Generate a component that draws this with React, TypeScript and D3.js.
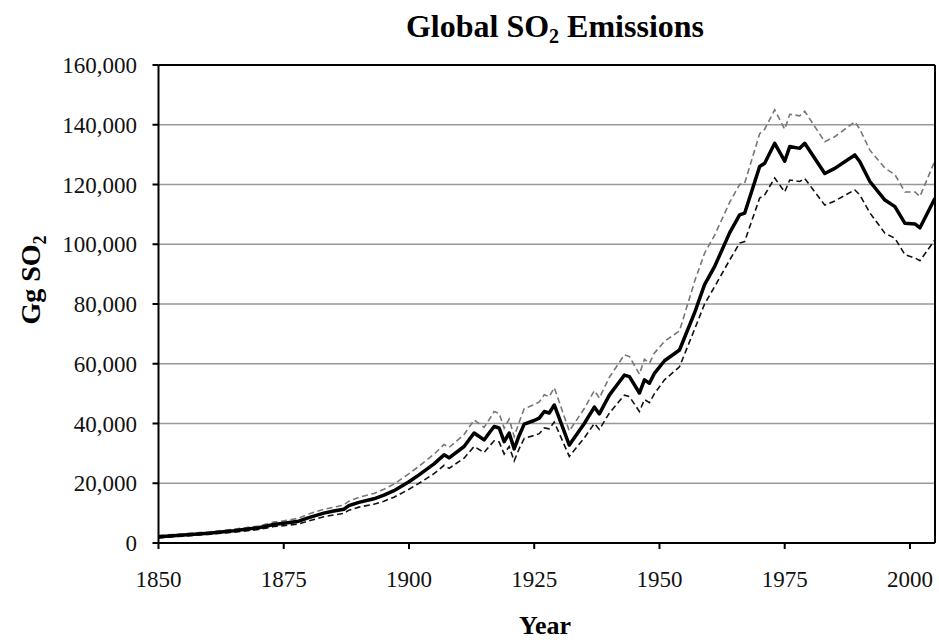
import React from "react";
import * as d3 from "d3";

const years = [1850, 1855, 1860, 1865, 1870, 1873, 1875, 1878, 1880, 1883, 1885, 1887, 1888, 1890, 1893, 1895, 1897, 1900, 1902, 1905, 1907, 1908, 1911, 1913, 1915, 1916, 1917, 1918, 1919, 1920, 1921, 1922, 1923, 1925, 1926, 1927, 1928, 1929, 1932, 1935, 1937, 1938, 1940, 1942, 1943, 1944, 1946, 1947, 1948, 1949, 1951, 1954, 1957, 1959, 1961, 1964, 1966, 1967, 1970, 1971, 1973, 1975, 1976, 1978, 1979, 1983, 1985, 1989, 1990, 1992, 1995, 1997, 1999, 2001, 2002, 2005];

const central = [2100, 2700, 3300, 4100, 5100, 6200, 6600, 7300, 8500, 10000, 10700, 11300, 12500, 13600, 14800, 16000, 17500, 20500, 22800, 26500, 29500, 28500, 32300, 36800, 34500, 36800, 39000, 38500, 33900, 36800, 31500, 36000, 39800, 41000, 41800, 44000, 43500, 46200, 32800, 40000, 45500, 43200, 49500, 54000, 56200, 55700, 50200, 54600, 53500, 56800, 61000, 64600, 77000, 86500, 92500, 103800, 109800, 110400, 126000, 127100, 133800, 127800, 132700, 132100, 133800, 123700, 125400, 129900, 127600, 121000, 114800, 112600, 107000, 106800, 105500, 115400];

const upper = [2500, 3100, 3700, 4600, 5700, 7000, 7400, 8300, 9700, 11300, 12000, 12700, 14000, 15300, 16600, 18000, 19700, 23200, 25700, 29700, 33000, 32000, 36300, 41200, 38700, 41300, 44000, 43400, 38400, 41500, 35600, 40500, 45000, 46300, 47200, 49600, 49000, 52000, 37500, 45000, 51000, 48500, 55500, 60500, 63000, 62400, 56500, 61500, 60200, 63600, 67500, 71000, 87500, 97000, 103000, 114000, 120000, 120400, 137000, 138500, 145000, 138500, 143500, 143000, 144500, 134300, 136000, 141000, 138500, 131500, 125500, 123300, 117500, 117500, 116000, 128000];

const lower = [1700, 2300, 2900, 3600, 4500, 5500, 5800, 6400, 7400, 8800, 9400, 9900, 11000, 12000, 13000, 14000, 15300, 18000, 20000, 23200, 26000, 25000, 28400, 32300, 30300, 32300, 34200, 33800, 29800, 32300, 27500, 31600, 35000, 36000, 36600, 38500, 38200, 40500, 29000, 35200, 40000, 38000, 43500, 47500, 49500, 49000, 44000, 48000, 47000, 50000, 54600, 59000, 71500, 80000, 85800, 94700, 100400, 100900, 115500, 116500, 122200, 117500, 121500, 121000, 122000, 113100, 114500, 118200, 116500, 110500, 103700, 102000, 96500, 95400, 94500, 101500];

const xTicks = [1850, 1875, 1900, 1925, 1950, 1975, 2000];
const yTicks = [0, 20000, 40000, 60000, 80000, 100000, 120000, 140000, 160000];

const W = 939;
const H = 644;
const left = 158.5;
const right = 935;
const top = 65;
const bottom = 543;

export default function App() {
  const x = d3.scaleLinear().domain([1850, 2005]).range([left, right]);
  const y = d3.scaleLinear().domain([0, 160000]).range([bottom, top]);
  const line = (vals: number[]) =>
    d3
      .line<number>()
      .x((_, i) => x(years[i]))
      .y((v) => y(v))(vals) || "";
  const fmt = d3.format(",");
  const font = "'Liberation Serif', 'Times New Roman', serif";

  return (
    <svg
      width={W}
      height={H}
      style={{ position: "absolute", left: 0, top: 0, background: "#fff" }}
      fontFamily={font}
    >
      <defs>
        <clipPath id="plot">
          <rect x={left} y={top - 5} width={right - left} height={bottom - top + 5} />
        </clipPath>
      </defs>
      {yTicks.slice(1, -1).map((t) => (
        <line key={t} x1={left} x2={right} y1={y(t)} y2={y(t)} stroke="#999" strokeWidth={1.6} />
      ))}
      <g clipPath="url(#plot)">
        <path d={line(upper)} fill="none" stroke="#777" strokeWidth={1.6} strokeDasharray="6,3.5" />
        <path d={line(lower)} fill="none" stroke="#111" strokeWidth={1.6} strokeDasharray="6,3.5" />
        <path d={line(central)} fill="none" stroke="#000" strokeWidth={3.5} strokeLinejoin="round" />
      </g>
      <line x1={left} x2={right} y1={top} y2={top} stroke="#000" strokeWidth={2} />
      <line x1={right} x2={right} y1={top} y2={bottom} stroke="#000" strokeWidth={2} />
      <line x1={left} x2={left} y1={top} y2={bottom} stroke="#000" strokeWidth={2} />
      <line x1={left} x2={right} y1={bottom} y2={bottom} stroke="#000" strokeWidth={2} />
      {yTicks.map((t) => (
        <g key={t}>
          <line x1={left - 6} x2={left} y1={y(t)} y2={y(t)} stroke="#000" strokeWidth={2} />
          <text x={137} y={y(t)} dy="0.35em" textAnchor="end" fontSize={23} fill="#111">
            {fmt(t)}
          </text>
        </g>
      ))}
      {xTicks.map((t) => (
        <g key={t}>
          <line x1={x(t)} x2={x(t)} y1={bottom} y2={bottom + 6} stroke="#000" strokeWidth={2} />
          <text x={x(t)} y={587} textAnchor="middle" fontSize={23} fill="#111">
            {t}
          </text>
        </g>
      ))}
      <text x={555} y={37} textAnchor="middle" fontSize={32} fontWeight="bold" fill="#000">
        Global SO
        <tspan fontSize={20} dy={6}>2</tspan>
        <tspan dy={-6}> Emissions</tspan>
      </text>
      <text x={545} y={634} textAnchor="middle" fontSize={26} fontWeight="bold" fill="#000">
        Year
      </text>
      <text
        transform={`translate(40, 280) rotate(-90)`}
        textAnchor="middle"
        fontSize={28}
        fontWeight="bold"
        fill="#000"
      >
        Gg SO
        <tspan fontSize={18} dy={6}>2</tspan>
      </text>
    </svg>
  );
}
